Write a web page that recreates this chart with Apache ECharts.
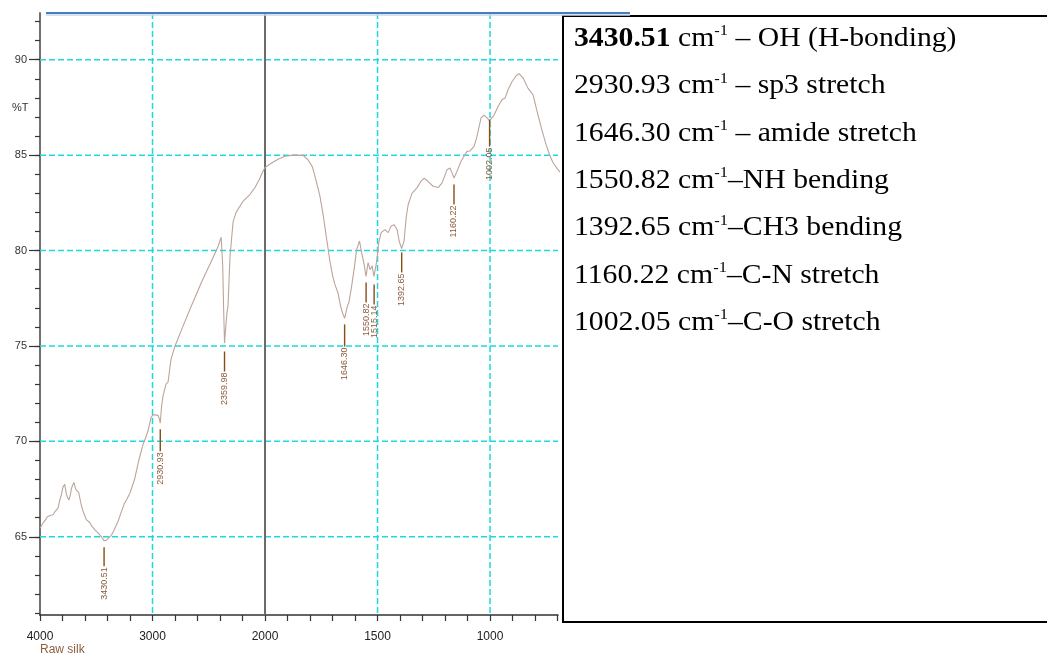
<!DOCTYPE html>
<html>
<head>
<meta charset="utf-8">
<script src="https://cdn.jsdelivr.net/npm/echarts@6/dist/echarts.min.js"></script>
<style>
html,body{margin:0;padding:0;background:#fff;}
#chart{width:1047px;height:655px;}
</style>
</head>
<body>
<div id="chart"></div>
<script>
// ---------------- DATA ----------------
const wavenumbers = [
  4000,3988,3970,3950,3935,3914,3900,3885,3869,3855,3840,3825,3810,3796,3780,3766,3755,3742,3730,3722,
  3710,3698,3688,3677,3666,3656,3645,3638,3628,3618,3605,3588,3575,3558,3545,3529,3510,3484,3455,3431,
  3410,3396,3370,3351,3330,3307,3280,3253,3225,3200,3160,3120,3084,3060,3040,3013,2995,2978,2951,2940,
  2931,2920,2907,2880,2862,2836,2800,2729,2640,2560,2480,2418,2390,2376,2368,2360,2350,2338,2329,2311,
  2284,2258,2196,2133,2089,2053,2015,2000,1969,1940,1911,1876,1831,1809,1790,1778,1756,1742,1728,1711,
  1700,1689,1676,1664,1655,1646,1636,1627,1616,1602,1593,1580,1571,1560,1551,1542,1533,1524,1516,1507,
  1502,1495,1484,1476,1467,1453,1440,1427,1413,1404,1393,1382,1373,1364,1347,1324,1307,1293,1276,1253,
  1231,1213,1191,1178,1169,1160,1147,1129,1111,1102,1089,1071,1058,1040,1027,1013,1002,982,964,947,
  933,920,902,884,871,853,831,809,791,769,751,733,720,698,680
];
const transmittance = [
  65.45,65.55,65.75,65.9,66.05,66.1,66.2,66.15,66.3,66.25,66.5,66.9,67.2,67.6,67.75,67.25,67.05,66.93,67.2,67.5,
  67.7,67.85,67.6,67.45,67.4,67.33,67.0,66.8,66.55,66.35,66.15,65.9,65.8,65.75,65.6,65.5,65.35,65.2,65.0,64.8,
  64.82,64.87,65.05,65.23,65.5,65.8,66.25,66.7,67.0,67.3,68.0,69.05,69.84,70.2,70.55,71.25,71.4,71.4,71.36,71.2,
  70.95,71.8,72.37,73.0,73.1,74.3,75.0,76.04,77.3,78.4,79.4,80.2,80.7,79.2,77.0,75.15,75.9,76.75,77.1,79.7,
  81.5,81.99,82.58,82.95,83.3,83.7,84.2,84.35,84.6,84.8,84.94,85.0,84.99,84.76,84.4,83.9,82.85,81.9,80.75,79.4,
  78.7,78.2,77.8,77.08,76.7,76.45,77.0,77.3,78.06,79.2,80.05,80.5,79.9,79.3,78.65,79.37,79.0,79.2,78.65,79.2,
  79.6,80.4,80.94,81.0,81.1,80.94,81.27,81.36,81.1,80.5,80.1,80.5,81.7,82.4,83.0,83.3,83.63,83.8,83.63,83.37,
  83.3,83.55,84.24,84.33,84.07,83.8,84.15,84.68,85.03,85.2,85.22,85.46,85.98,86.95,87.1,86.95,86.8,87.1,87.56,87.9,
  88.0,88.43,88.86,89.16,89.27,89.04,88.5,88.17,87.3,86.3,85.55,84.94,84.6,84.24,84.0
];
const peakWavenumbers = [3430.51, 2930.93, 2359.98, 1646.30, 1550.82, 1515.14, 1392.65, 1160.22, 1002.05];
const peakLabels = ['3430.51','2930.93','2359.98','1646.30','1550.82','1515.14','1392.65','1160.22','1002.05'];
const markerTop = [64.45, 70.63, 74.71, 76.13, 78.32, 78.22, 79.90, 83.46, 86.86];
const markerBottom = [63.46, 69.48, 73.66, 74.97, 77.28, 77.17, 78.85, 82.41, 85.45];
const yLabelValues = [65, 70, 75, 80, 85, 90];
const yMinorTickValues = [61,62,63,64,65,66,67,68,69,70,71,72,73,74,75,76,77,78,79,80,81,82,83,84,85,86,87,88,89,90,91,92];
const xGridWavenumbers = [3000, 1500, 1000];
const xLabelWavenumbers = [4000, 3000, 2000, 1500, 1000];
const scaleBreak = 2000;
const yAxisName = '%T';
const sampleName = 'Raw silk';
const assignmentNumbers = ['3430.51','2930.93','1646.30','1550.82','1392.65','1160.22','1002.05'];
const assignmentTexts = [' – OH (H-bonding)',' – sp3 stretch',' – amide stretch','–NH bending','–CH3 bending','–C-N stretch','–C-O stretch'];

// ------------- piecewise wavenumber scale (compressed above 2000) -------------
function toU(w){ return w >= scaleBreak ? 4000 - w : 2000 + (scaleBreak - w) * 2; }
function fromU(u){ return u <= 2000 ? 4000 - u : scaleBreak - (u - 2000) / 2; }

const xTickU = [];
for (let u = 0; u <= 4600; u += 200) xTickU.push(u);

const spectrum = wavenumbers.map((w, i) => [toU(w), transmittance[i]]);
const peaks = peakWavenumbers.map((w, i) => [toU(w), markerTop[i], markerBottom[i], i]);

// grid lines: [u, T, kind]  kind 0 = horizontal dashed, 1 = vertical dashed, 2 = vertical solid (scale break)
const gridLines = [];
yLabelValues.forEach(v => gridLines.push([0, v, 0]));
xGridWavenumbers.forEach(w => gridLines.push([toU(w), 70, 1]));
gridLines.push([toU(scaleBreak), 70, 2]);

const chart = echarts.init(document.getElementById('chart'));
const axisFont = '"Liberation Sans", Arial, sans-serif';
const serif = '"Liberation Serif", "Times New Roman", serif';

const boxTexts = assignmentNumbers.map((n, i) => ({
  type: 'text',
  x: 574,
  y: 39 + i * 47.3,
  scaleX: 1.1,
  z: 20,
  style: {
    text: (i === 0 ? '{b|' + n + '}' : '{n|' + n + '}') + '{n| cm}{s|-1}{n|' + assignmentTexts[i] + '}',
    verticalAlign: 'middle',
    align: 'left',
    rich: {
      n: { fontFamily: serif, fontSize: 27, color: '#000', lineHeight: 30 },
      b: { fontFamily: serif, fontSize: 27, fontWeight: 'bold', color: '#000', lineHeight: 30 },
      s: { fontFamily: serif, fontSize: 15, color: '#000', verticalAlign: 'top', lineHeight: 30 }
    }
  }
}));

chart.setOption({
  animation: false,
  backgroundColor: '#fff',
  grid: { left: 40, top: 13, width: 518, height: 602, containLabel: false },
  xAxis: {
    type: 'value', min: 0, max: 4604,
    axisLine: { show: true, onZero: false, lineStyle: { color: '#333', width: 1.5 } },
    axisTick: { show: true, length: 6, customValues: xTickU, lineStyle: { color: '#333', width: 1.2 } },
    axisLabel: {
      customValues: xLabelWavenumbers.map(toU), margin: 16,
      fontFamily: axisFont, fontSize: 12, color: '#222',
      formatter: v => String(Math.round(fromU(v)))
    },
    splitLine: { show: false }
  },
  yAxis: [
    {
      type: 'value', min: 60.9, max: 92.45,
      axisLine: { show: true, lineStyle: { color: '#707070', width: 2 } },
      axisTick: { show: true, length: 5, customValues: yMinorTickValues, lineStyle: { color: '#333', width: 1.2 } },
      axisLabel: { show: false },
      splitLine: { show: false }
    },
    {
      type: 'value', min: 60.9, max: 92.45, position: 'left',
      axisLine: { show: false },
      axisTick: { show: true, length: 11, customValues: yLabelValues, lineStyle: { color: '#333', width: 1.2 } },
      axisLabel: { customValues: yLabelValues, margin: 13, fontFamily: axisFont, fontSize: 11, color: '#333' },
      splitLine: { show: false }
    }
  ],
  series: [
    {
      type: 'custom', data: gridLines, z: 1, silent: true,
      encode: { x: 0, y: 1 },
      renderItem: function (params, api) {
        const cs = params.coordSys;
        const kind = api.value(2);
        const p = api.coord([api.value(0), api.value(1)]);
        const dashStyle = { stroke: '#1ed9dc', lineWidth: 1.5, lineDash: [6, 3] };
        if (kind === 0) {
          return { type: 'line', shape: { x1: cs.x, y1: p[1], x2: cs.x + cs.width, y2: p[1] }, style: dashStyle };
        }
        if (kind === 1) {
          return { type: 'line', shape: { x1: p[0], y1: cs.y, x2: p[0], y2: cs.y + cs.height }, style: dashStyle };
        }
        return { type: 'line', shape: { x1: p[0], y1: cs.y, x2: p[0], y2: cs.y + cs.height },
                 style: { stroke: '#6a6a6a', lineWidth: 2 } };
      }
    },
    {
      type: 'line', data: spectrum, symbol: 'none', z: 3, silent: true,
      lineStyle: { color: '#bca49a', width: 1.1 }
    },
    {
      type: 'custom', data: peaks, z: 4, silent: true,
      encode: { x: 0, y: [1, 2] },
      renderItem: function (params, api) {
        const u = api.value(0);
        const p1 = api.coord([u, api.value(1)]);
        const p2 = api.coord([u, api.value(2)]);
        const idx = api.value(3);
        return {
          type: 'group',
          children: [
            { type: 'line', shape: { x1: p1[0], y1: p1[1], x2: p2[0], y2: p2[1] },
              style: { stroke: '#8b4c14', lineWidth: 1.4 } },
            { type: 'text', x: p2[0], y: p2[1] + 1, rotation: Math.PI / 2,
              style: { text: peakLabels[idx], align: 'right', verticalAlign: 'middle',
                       fill: '#8a5a3c', font: '9px "Liberation Sans", Arial, sans-serif' } }
          ]
        };
      }
    }
  ],
  graphic: [
    { type: 'text', left: 12, top: 102, z: 10,
      style: { text: yAxisName, font: '11px "Liberation Sans", Arial, sans-serif', fill: '#333' } },
    { type: 'text', left: 40, top: 644, z: 10,
      style: { text: sampleName, font: '12px "Liberation Sans", Arial, sans-serif', fill: '#8d5f3f' } },
    { type: 'line', z: 15, shape: { x1: 46, y1: 15, x2: 630, y2: 15 },
      style: { stroke: '#c9d8ee', lineWidth: 1.5 } },
    { type: 'line', z: 16, shape: { x1: 46, y1: 13, x2: 630, y2: 13 },
      style: { stroke: '#4a7dbd', lineWidth: 2 } },
    { type: 'rect', z: 12, shape: { x: 563, y: 16, width: 500, height: 606 },
      style: { fill: '#fff', stroke: '#000', lineWidth: 2 } }
  ].concat(boxTexts)
});
</script>
</body>
</html>
